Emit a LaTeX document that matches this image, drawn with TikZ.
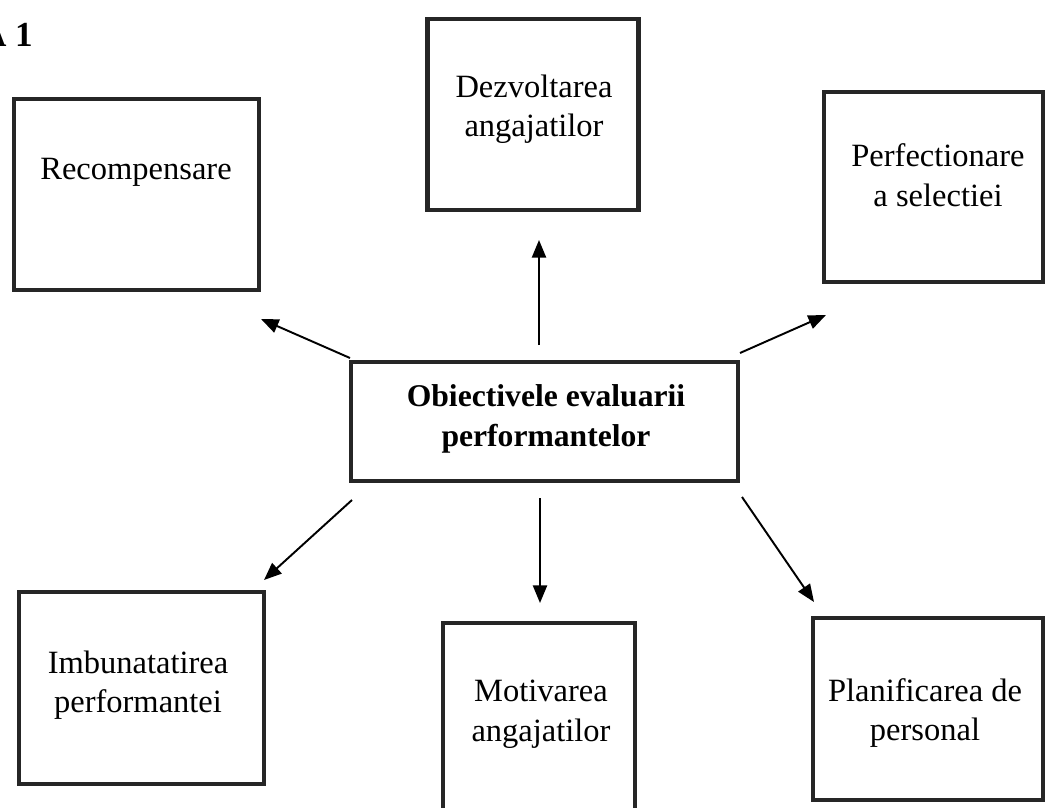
\documentclass[tikz,border=0pt]{standalone}
\usepackage{fontspec}
\setmainfont{Liberation Serif}
\usetikzlibrary{arrows.meta}
\tikzset{
  box/.style={draw=black!85, line width=2.6pt, inner sep=0pt},
  lbl/.style={align=center, font=\fontsize{18.5}{22.5}\selectfont},
  arr/.style={-{Triangle[length=10pt,width=8pt]}, line width=1.1pt}
}
\begin{document}
\begin{tikzpicture}[x=0.02cm,y=-0.02cm]
\useasboundingbox (0,0) rectangle (1045,808);
\node[font=\fontsize{20}{24}\selectfont\bfseries, anchor=base east] (title) at (39,47) {A 1};
% boxes
\node[box, minimum width=4.9cm, minimum height=3.82cm] (rec) at (136.5,194.5) {};
\node[box, minimum width=4.22cm, minimum height=3.82cm] (dez) at (533,114.5) {};
\node[box, minimum width=4.38cm, minimum height=3.8cm] (perf) at (933.5,187) {};
\node[box, minimum width=7.74cm, minimum height=2.38cm] (obj) at (544.5,421.5) {};
\node[box, minimum width=4.9cm, minimum height=3.84cm] (imb) at (141.5,688) {};
\node[box, minimum width=3.84cm, minimum height=3.78cm] (mot) at (539,717.5) {};
\node[box, minimum width=4.6cm, minimum height=3.64cm] (plan) at (928,709) {};
% texts
\node[lbl] (rec-t) at (136,172) {Recompensare};
\node[lbl] (dez-t) at (534,109) {Dezvoltarea\\angajatilor};
\node[lbl] (perf-t) at (938,175) {Perfectionare\\a selectiei};
\node[lbl, font=\fontsize{18}{22.5}\selectfont\bfseries] (obj-t) at (546,419) {Obiectivele evaluarii\\performantelor};
\node[lbl] (imb-t) at (138,685) {Imbunatatirea\\performantei};
\node[lbl] (mot-t) at (541,714) {Motivarea\\angajatilor};
\node[lbl] (plan-t) at (925,713) {Planificarea de\\personal};
% arrows
\coordinate (o1) at (350,358); \coordinate (t1) at (261,319);
\coordinate (o2) at (539,345); \coordinate (t2) at (539,240);
\coordinate (o3) at (740,353); \coordinate (t3) at (826,315);
\coordinate (o4) at (352,500); \coordinate (t4) at (264,580);
\coordinate (o5) at (540,498); \coordinate (t5) at (540,603);
\coordinate (o6) at (742,497); \coordinate (t6) at (814,602);
\foreach \i in {1,...,6}
  \draw[arr] (o\i) -- (t\i);
\end{tikzpicture}
\end{document}
